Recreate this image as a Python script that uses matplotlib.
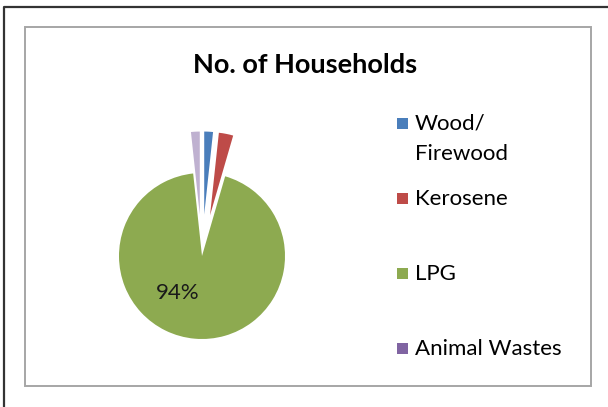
import matplotlib.pyplot as plt
from matplotlib.patches import Rectangle

# household fuel use, share of households (%)
fuels = ['Wood/\nFirewood', 'Kerosene', 'LPG', 'Animal Wastes']
shares = [1.7, 2.8, 93.8, 1.7]
colors = ['#4A7EBB', '#BE4B48', '#8DAA50', '#8064A2']
explode = [0.5, 0.5, 0.0, 0.5]

FONT = 'Lato'


def pct_label(p):
    return '%d%%' % round(p) if p > 50 else ''


def main():
    fig = plt.figure(figsize=(6.08, 4.07), dpi=100)

    # background layer in pixel units for the frame, title and legend
    bg = fig.add_axes([0, 0, 1, 1])
    bg.set_xlim(0, 608)
    bg.set_ylim(407, 0)
    bg.axis('off')
    bg.plot([4, 4, 608], [407, 7, 7], color='#333333', lw=1.6, solid_capstyle='butt')
    bg.add_patch(Rectangle((25, 27), 566, 359, fill=False, ec='#A6A6A6', lw=1.4))
    bg.text(305, 73, 'No. of Households', ha='center', va='baseline',
            fontsize=19.5, fontweight='bold', family=FONT, color='black')

    # pie, one data unit = 83 px
    r_px = 83
    cx, cy = 202, 256
    half = 1.6 * r_px
    ax = fig.add_axes([(cx - half) / 608, (407 - cy - half) / 407,
                       2 * half / 608, 2 * half / 407])
    wedges, _, autotexts = ax.pie(shares, colors=colors, explode=explode,
                                  startangle=90, counterclock=False,
                                  autopct=pct_label, wedgeprops=dict(linewidth=0),
                                  textprops=dict(family=FONT, fontsize=16, color='#1a1a1a'))
    wedges[3].set_alpha(0.5)
    autotexts[2].set_position((-0.29, -0.45))
    ax.set_xlim(-1.6, 1.6)
    ax.set_ylim(-1.6, 1.6)
    ax.set_aspect('equal')

    # legend entries
    baselines = [130, 205, 280, 355]
    for name, col, y in zip(fuels, colors, baselines):
        bg.add_patch(Rectangle((397, y - 12), 11, 11, fc=col, ec='none'))
        lines = name.split('\n')
        for i, line in enumerate(lines):
            bg.text(415, y + 30 * i, line, ha='left', va='baseline',
                    fontsize=16, family=FONT, color='black')

    fig.savefig('out.png', dpi=100, facecolor='w')
    plt.close('all')


if __name__ == '__main__':
    main()
